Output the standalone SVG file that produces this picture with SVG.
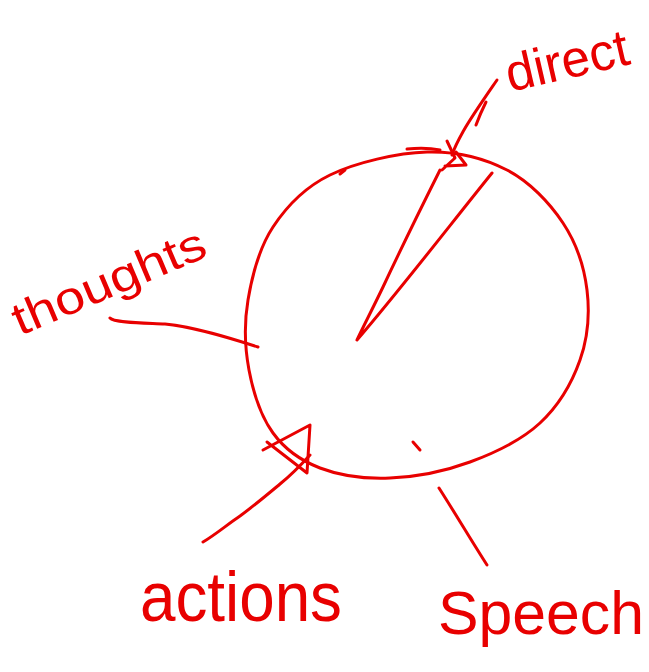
<svg xmlns="http://www.w3.org/2000/svg" width="649" height="672" viewBox="0 0 649 672">
<style>
.ink{fill:none;stroke:#e80000;stroke-width:3;stroke-linecap:round;stroke-linejoin:round}
.lbl{fill:#e80000;font-family:"Liberation Sans","DejaVu Sans",sans-serif}
</style>
<rect width="649" height="672" fill="#ffffff"/>
<g id="circle">
<path class="ink" d="M427 152 C456.5 151.2 484.3 158.2 507 170 C529.7 181.8 549.7 203 563 223 C576.3 243 584.2 267.2 587 290 C589.8 312.8 587.8 337.8 580 360 C572.2 382.2 558.3 406 540 423 C521.7 440 495 452.8 470 462 C445 471.2 415 477 390 478 C365 479 339.5 475.5 320 468 C300.5 460.5 284.8 449.3 273 433 C261.2 416.7 253.2 392.2 249 370 C244.8 347.8 244 323.8 248 300 C252 276.2 259.3 247.8 273 227 C286.7 206.2 304.3 187.5 330 175 C355.7 162.5 397.5 152.8 427 152 Z"/>
<path class="ink" d="M407 149 C418 148 430 148 440 150"/>
<path class="ink" d="M340 174 L345 170"/>
<path class="ink" d="M413 442 L420 450"/>
<path class="ink" d="M440 170 C420 210 398 255 383 287 C372 310 364 325 357 340 C400 290 450 225 492 173"/>
</g>
<g id="connectors">
<path class="ink" d="M497 80 C486 96 472 116 464 130 C459 139 455 146 452 155"/>
<path class="ink" d="M486 102 C482 110 479 117 476 125"/>
<path class="ink" d="M447 141 L455 158 L442 170 M445 166 L466 165 L456 152"/>
<path class="ink" d="M110 318 C114 323 145 323 165 324 C195 327 230 338 258 347"/>
<path class="ink" d="M203 542 C215 535 228 524 240 516 C255 505 268 494 280 484 C290 476 300 466 310 455"/>
<path class="ink" d="M263 450 L310 425 L307 473 L267 442"/>
<path class="ink" d="M439 488 C455 513 471 540 487 565"/>
</g>
<g id="direct"><text class="lbl" x="510" y="92" font-size="52" textLength="125" lengthAdjust="spacingAndGlyphs" transform="rotate(-13 510 92)">direct</text></g>
<g id="thoughts"><text class="lbl" x="20" y="336" font-size="46" textLength="206" lengthAdjust="spacingAndGlyphs" transform="rotate(-23 20 336)">thoughts</text></g>
<g id="actions"><text class="lbl" x="140" y="621" font-size="70" textLength="202" lengthAdjust="spacingAndGlyphs">actions</text></g>
<g id="speech"><text class="lbl" x="438" y="634" font-size="62" textLength="206" lengthAdjust="spacingAndGlyphs">Speech</text></g>
</svg>
